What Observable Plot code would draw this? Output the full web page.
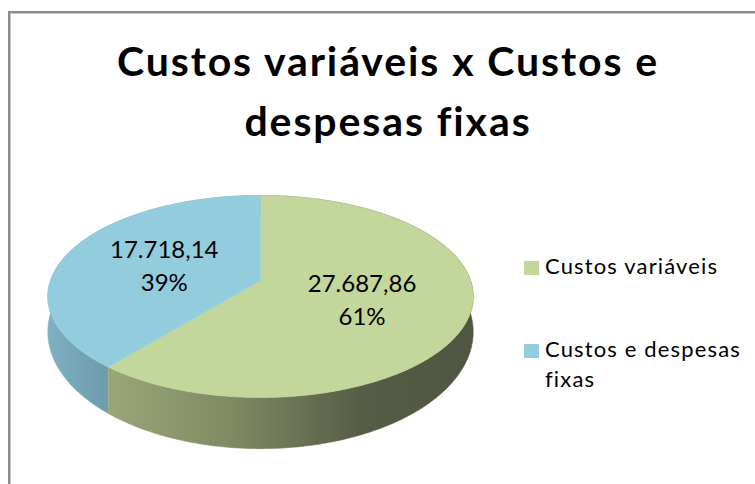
<!DOCTYPE html>
<html>
<head>
<meta charset="utf-8">
<script src="https://cdn.jsdelivr.net/npm/d3@7"></script>
<script src="https://cdn.jsdelivr.net/npm/@observablehq/plot@0.6"></script>
<style>
  html, body { margin: 0; padding: 0; background: #fff; }
  #wrap { position: relative; width: 755px; height: 484px; overflow: hidden; background: #fff; font-family: Lato, "Open Sans", sans-serif; }
  #frame { position: absolute; left: 8px; top: 11px; width: 900px; height: 700px;
           border-left: 2px solid #8c8c8c; border-top: 2px solid #8c8c8c;
           box-shadow: inset 1px 1px 0 #c8c8c8; }
  #title { position: absolute; left: 113px; width: 550px; top: 31px; text-align: center;
           font-weight: bold; font-size: 41px; line-height: 60px; letter-spacing: 1.9px; color: #000; }
  #chart { position: absolute; left: 0; top: 0; }
  .leg { position: absolute; left: 545px; width: 208px; font-size: 22px; line-height: 30px; letter-spacing: 1.15px; color: #000; }
  .sw { position: absolute; left: -21px; width: 15px; height: 14px; }
</style>
</head>
<body>
<div id="wrap">
  <div id="frame"></div>
  <div id="chart"></div>
  <div id="title"></div>
  <div id="legend"></div>
</div>
<script>
// ---- data ----
const titleText = "Custos variáveis x Custos e despesas fixas";
const categories = ["Custos variáveis", "Custos e despesas fixas"];
const values = [27687.86, 17718.14];
const colors = ["#c3d69b", "#93cddd"];

// ---- helpers ----
function fmtBR(v) {
  const [i, d] = v.toFixed(2).split(".");
  return i.replace(/\B(?=(\d{3})+(?!\d))/g, ".") + "," + d;
}
const total = d3.sum(values);

// perspective pie geometry (units of pie radius)
const PX = 210, CX = 260, CY = 280, W = 755, H = 484;
const PERSP = -0.158, TILT_TOP = 0.469, TILT_BOT = 0.542, DROP = 0.157;
function project(theta, r, level) {
  const u = r * Math.sin(theta), v = -r * Math.cos(theta);
  const d = 1 + PERSP * v;
  return level
    ? {x: u / d, y: DROP + TILT_BOT * v / d}
    : {x: u / d, y: TILT_TOP * v / d};
}
function arcPts(a0, a1, level) {
  const n = Math.max(2, Math.ceil((a1 - a0) / 0.01));
  return d3.range(n + 1).map(k => project(a0 + (a1 - a0) * k / n, 1, level));
}

const arcs = d3.pie().sort(null).startAngle(0).endAngle(2 * Math.PI)(values);

const tops = arcs.map(a => [{x: 0, y: 0}, ...arcPts(a.startAngle, a.endAngle, 0)]);
const sides = arcs.map(a => [...arcPts(a.startAngle, a.endAngle, 0), ...arcPts(a.startAngle, a.endAngle, 1).reverse()]);
const labels = arcs.map((a, i) => {
  const p = project((a.startAngle + a.endAngle) / 2, 0.5, 0);
  return {x: p.x, y: p.y, text: fmtBR(values[i]) + "\n" + Math.round(values[i] / total * 100) + "%"};
});

const marks = [];
[1, 0].forEach(i => marks.push(Plot.line(sides[i], {x: "x", y: "y", fill: `url(#side${i})`, stroke: `url(#side${i})`, strokeWidth: 0.6, curve: "linear"})));
[0, 1].forEach(i => marks.push(Plot.line(tops[i], {x: "x", y: "y", fill: colors[i], stroke: colors[i], strokeWidth: 0.7, curve: "linear"})));
marks.push(Plot.text(labels, {x: "x", y: "y", text: "text", fontSize: 24, lineHeight: 1.38, fill: "#000", fontFamily: "Lato, sans-serif"}));

const plot = Plot.plot({
  width: W, height: H, margin: 0,
  x: {domain: [-CX / PX, (W - CX) / PX], range: [0, W], axis: null},
  y: {domain: [-CY / PX, (H - CY) / PX], range: [0, H], axis: null},
  style: {background: "transparent", overflow: "visible"},
  marks
});

// gradients for the pie walls
const sx = plot.scale("x");
const svg = d3.select(plot.tagName === "svg" ? plot : plot.querySelector("svg"));
const defs = svg.insert("defs", ":first-child");
function grad(id, x0, x1, stops) {
  const g = defs.append("linearGradient").attr("id", id).attr("gradientUnits", "userSpaceOnUse")
    .attr("x1", sx.apply(x0)).attr("x2", sx.apply(x1)).attr("y1", 0).attr("y2", 0);
  stops.forEach(([o, c]) => g.append("stop").attr("offset", o).attr("stop-color", c));
}
grad("side0", -0.75, 1.0, [[0, "#9ba779"], [0.35, "#7f8a63"], [0.7, "#565d46"], [1, "#4f5641"]]);
grad("side1", -1.03, -0.75, [[0, "#80b2c3"], [1, "#6d9dae"]]);

document.getElementById("chart").appendChild(plot);
document.getElementById("title").textContent = titleText;

const legend = document.getElementById("legend");
const legTops = [251, 334];
categories.forEach((c, i) => {
  const d = document.createElement("div");
  d.className = "leg";
  d.style.top = legTops[i] + "px";
  d.innerHTML = `<span class="sw" style="top:10px;background:${colors[i]}"></span>`;
  d.appendChild(document.createTextNode(c));
  legend.appendChild(d);
});
</script>
</body>
</html>
